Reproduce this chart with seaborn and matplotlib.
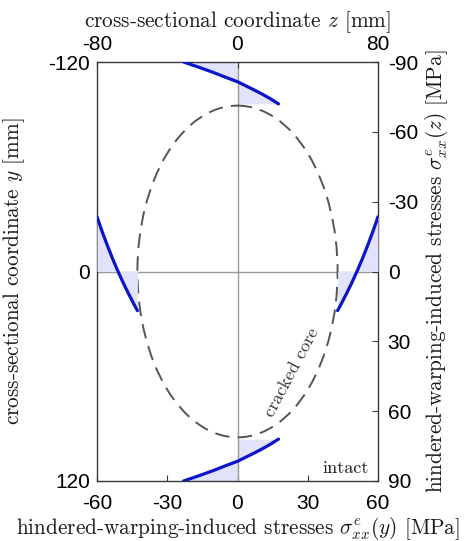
import numpy as np
import pandas as pd
import matplotlib
matplotlib.use("Agg")
import matplotlib.pyplot as plt
from matplotlib.patches import Ellipse
import seaborn as sns

# ---------------- data ----------------
# stresses along y (top & bottom edges), read against bottom axis [MPa]
y_top = [-120, -117, -114, -111, -108.7, -105, -102, -99, -96]
s_top = [-23.0, -16.5, -10.3, -4.6, 0.0, 5.6, 10.0, 14.0, 17.5]
y_bot = [120, 117, 114, 111, 108.7, 105, 102, 99, 96]
s_bot = [-23.0, -16.5, -10.3, -4.6, 0.0, 5.6, 10.0, 14.0, 17.5]
# stresses along z (left & right edges), read against right axis [MPa]
z_left = [-80, -77, -74, -71, -68, -65, -62, -59.5, -57]
s_left = [-23.5, -17.0, -11.0, -5.3, 0.0, 5.0, 9.6, 13.3, 16.8]
z_right = [80, 77, 74, 71, 68, 65, 62, 59.5, 57]
s_right = [-23.5, -17.0, -11.0, -5.3, 0.0, 5.0, 9.6, 13.3, 16.8]
# cracked core (semi-axes, mm)
core_z_semi = 57
core_y_semi = 95

x_ticks_bottom = [-60, -30, 0, 30, 60]
y_ticks_left = [-120, 0, 120]
x_ticks_top = [-80, 0, 80]
y_ticks_right = [-90, -60, -30, 0, 30, 60, 90]

# ---------------- style ----------------
sns.set_style("ticks")
plt.rcParams["font.family"] = ["Liberation Sans", "DejaVu Sans"]
plt.rcParams["mathtext.fontset"] = "cm"
plt.rcParams["axes.unicode_minus"] = False

BLUE = "#0a14c8"
FILL = "#e2e2fa"
SPINE = "#3a3a3a"
TICKFS = 15
LABFS = 15.3
serif = dict(fontfamily="cmr10", fontsize=LABFS, color="#1a1a1a")

fig = plt.figure(figsize=(4.70, 5.41), dpi=100)
pos = [97 / 470, 1 - 481 / 541, (378 - 97) / 470, (481 - 62) / 541]

ax = fig.add_axes(pos)            # bottom / left : stress(y) vs y
ax3 = fig.add_axes(pos, frameon=False)  # geometry : z vs y
ax2 = fig.add_axes(pos, frameon=False)  # top / right : z vs stress(z)

ax.set_xlim(-60, 60)
ax.set_ylim(120, -120)
ax3.set_xlim(-80, 80)
ax3.set_ylim(120, -120)
ax3.axis("off")
ax2.set_xlim(-80, 80)
ax2.set_ylim(90, -90)

# zero lines
ax.axvline(0, color="#9a9a9a", lw=1.0, zorder=1)
ax.axhline(0, color="#9a9a9a", lw=1.0, zorder=1)

# fills + curves along y
ax.fill_betweenx(y_top, 0, s_top, color=FILL, lw=0, zorder=0.5)
ax.fill_betweenx(y_bot, 0, s_bot, color=FILL, lw=0, zorder=0.5)
sns.lineplot(x=s_top, y=y_top, ax=ax, sort=False, color=BLUE, lw=2.3, zorder=3)
sns.lineplot(x=s_bot, y=y_bot, ax=ax, sort=False, color=BLUE, lw=2.3, zorder=3)

# fills + curves along z
ax2.fill_between(z_left, 0, s_left, color=FILL, lw=0, zorder=0.5)
ax2.fill_between(z_right, 0, s_right, color=FILL, lw=0, zorder=0.5)
sns.lineplot(x=z_left, y=s_left, ax=ax2, sort=False, color=BLUE, lw=2.3, zorder=3)
sns.lineplot(x=z_right, y=s_right, ax=ax2, sort=False, color=BLUE, lw=2.3, zorder=3)

# cracked core
ax3.add_patch(Ellipse((0, 0), 2 * core_z_semi, 2 * core_y_semi, fill=False,
                      edgecolor="#555555", lw=1.4, linestyle=(0, (7.5, 4.2))))
ax3.text(31, 58, "cracked core", rotation=62, ha="center", va="center",
         fontfamily="cmr10", fontsize=13, color="#333333")
ax3.text(75, 113, "intact", ha="right", va="center",
         fontfamily="cmr10", fontsize=13, color="#1a1a1a")

# ticks
ax.set_xticks(x_ticks_bottom)
ax.set_yticks(y_ticks_left)
ax.set_xticklabels([str(t) for t in x_ticks_bottom])
ax.set_yticklabels([str(t) for t in y_ticks_left])
ax.tick_params(direction="in", length=4, width=0.8, colors=SPINE,
               labelsize=TICKFS, labelcolor="black", pad=5,
               top=False, right=False)
ax.tick_params(axis="x", pad=9.5)
for s in ax.spines.values():
    s.set_color(SPINE)
    s.set_linewidth(1.0)

ax2.xaxis.tick_top()
ax2.yaxis.tick_right()
ax2.set_xticks(x_ticks_top)
ax2.set_yticks(y_ticks_right)
ax2.set_xticklabels([str(t) for t in x_ticks_top])
ax2.set_yticklabels([str(t) for t in y_ticks_right])
ax2.tick_params(direction="in", length=4, width=0.8, colors=SPINE,
                labelsize=TICKFS, labelcolor="black", pad=7)
ax2.tick_params(axis="x", pad=6)
ax2.patch.set_visible(False)

# labels
ax.set_xlabel(r"hindered-warping-induced stresses $\sigma^{e}_{xx}(y)$ [MPa]", **serif)
ax.set_ylabel(r"cross-sectional coordinate $y$ [mm]", **serif)
ax2.xaxis.set_label_position("top")
ax2.yaxis.set_label_position("right")
ax2.set_xlabel(r"cross-sectional coordinate $z$ [mm]", **serif)
ax2.set_ylabel(r"hindered-warping-induced stresses $\sigma^{e}_{xx}(z)$ [MPa]",
               rotation=90, **serif)

ax.xaxis.set_label_coords(0.5, (481 - 515) / 419)
ax.yaxis.set_label_coords((27 - 97) / 281, 0.5)
ax2.xaxis.set_label_coords(0.5, 1 + (62 - 27) / 419)
ax2.yaxis.set_label_coords((423 - 97) / 281, 0.5)

fig.savefig("out.png", dpi=100)
